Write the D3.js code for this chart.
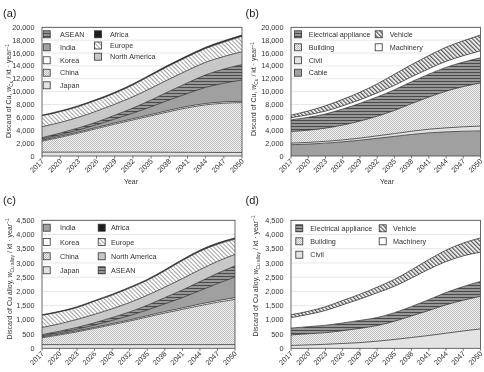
<!DOCTYPE html>
<html>
<head>
<meta charset="utf-8">
<script src="https://cdn.jsdelivr.net/npm/d3@7/dist/d3.min.js"></script>
<style>
  body { margin: 0; background: #fff; }
  svg { display: block; font-family: "Liberation Sans", Arial, sans-serif; will-change: transform; -webkit-font-smoothing: antialiased; }
</style>
</head>
<body>
<svg id="chart" width="484" height="372"></svg>
<script>
const years = [2017, 2020, 2023, 2026, 2029, 2032, 2035, 2038, 2041, 2044, 2047, 2050];

// (a) discard of Cu by region, kt/year
const cuJapan = [600, 600, 600, 600, 600, 600, 590, 580, 570, 560, 550, 550];
const cuChina = [1700, 2300, 2950, 3650, 4350, 5000, 5660, 6320, 6930, 7390, 7650, 7750];
const cuKorea = [150, 160, 170, 180, 190, 200, 200, 210, 210, 210, 210, 200];
const cuIndia = [200, 250, 320, 420, 600, 850, 1200, 1600, 2000, 2500, 2900, 3300];
const cuAsean = [200, 250, 320, 420, 600, 800, 1050, 1350, 1650, 1950, 2200, 2400];
const cuNorthAmerica = [1700, 1650, 1650, 1700, 1700, 1750, 1850, 1900, 1950, 1950, 1950, 2000];
const cuEurope = [1700, 1680, 1670, 1700, 1720, 1850, 1990, 2070, 2110, 2150, 2240, 2400];
const cuAfrica = [100, 110, 120, 130, 140, 150, 160, 170, 180, 190, 200, 200];

// (b) discard of Cu by end use, kt/year
const cuCable = [1750, 1850, 2000, 2200, 2450, 2750, 3050, 3350, 3600, 3750, 3850, 3900];
const cuCivil = [250, 260, 280, 300, 330, 380, 430, 500, 560, 620, 690, 750];
const cuBuilding = [1800, 1900, 2050, 2300, 2650, 3050, 3600, 4300, 5000, 5700, 6250, 6700];
const cuElectrical = [1800, 2000, 2200, 2500, 2750, 3000, 3200, 3400, 3550, 3700, 3800, 3900];
const cuMachinery = [350, 400, 450, 500, 560, 620, 700, 770, 850, 950, 1000, 1100];
const cuVehicle = [400, 590, 820, 1000, 1160, 1400, 1720, 1880, 2040, 2180, 2310, 2450];

// (c) discard of Cu alloy by region, kt/year
const alloyJapan = [130, 130, 130, 130, 130, 130, 130, 130, 130, 130, 130, 130];
const alloyChina = [240, 340, 450, 570, 700, 830, 970, 1110, 1240, 1370, 1490, 1590];
const alloyKorea = [30, 30, 35, 35, 40, 40, 45, 50, 50, 55, 55, 60];
const alloyIndia = [40, 50, 60, 80, 110, 150, 200, 270, 360, 470, 600, 720];
const alloyAsean = [40, 50, 60, 80, 100, 130, 170, 220, 270, 320, 360, 400];
const alloyNorthAmerica = [250, 260, 280, 300, 310, 330, 350, 370, 400, 420, 420, 400];
const alloyEurope = [430, 420, 420, 460, 480, 510, 525, 575, 635, 645, 605, 540];
const alloyAfrica = [20, 20, 25, 25, 30, 30, 30, 35, 35, 40, 40, 40];

// (d) discard of Cu alloy by end use, kt/year
const alloyCivil = [100, 120, 140, 170, 200, 250, 310, 380, 450, 530, 610, 680];
const alloyBuilding = [370, 390, 410, 450, 500, 550, 640, 760, 880, 1000, 1080, 1150];
const alloyElectrical = [240, 250, 260, 270, 280, 280, 300, 330, 380, 430, 480, 520];
const alloyMachinery = [370, 430, 520, 640, 750, 870, 930, 1000, 1070, 1090, 1080, 1030];
const alloyVehicle = [100, 110, 130, 150, 170, 200, 240, 290, 340, 400, 450, 500];

function buildTable(series) {
  return years.map((year, i) => {
    let row = { year: year };
    for (let name in series) row[name] = series[name][i];
    return row;
  });
}

const fills = {
  Japan: "#e3e3e3",
  China: "url(#checker)",
  Korea: "#ffffff",
  India: "#a0a0a0",
  ASEAN: "url(#stripes)",
  "North America": "#c8c8c8",
  Europe: "url(#diag)",
  Africa: "#1e1e1e",
  Cable: "#a0a0a0",
  Civil: "#e3e3e3",
  Building: "url(#checker)",
  "Electrical appliance": "url(#stripes)",
  Machinery: "#ffffff",
  Vehicle: "url(#diagDark)",
};

const panels = [
  {
    label: "(a)", labelX: 3, labelY: 17,
    left: 42, right: 242, top: 27.3, bottom: 156,
    yMax: 20000, yStep: 2000,
    title: ["Discard of Cu, ", "w", "Cu", " / kt · year", "−1"], titleX: 9, titleY: 91,
    yearX: 131, yearY: 184,
    table: buildTable({ Japan: cuJapan, China: cuChina, Korea: cuKorea, India: cuIndia, ASEAN: cuAsean,
      "North America": cuNorthAmerica, Europe: cuEurope, Africa: cuAfrica }),
    legend: [
      { icon: 46.7, text: 60, rows: [34.3, 47.3, 60.3, 72.7, 85.3], names: ["ASEAN", "India", "Korea", "China", "Japan"] },
      { icon: 98, text: 110, rows: [34.3, 45.5, 56.7], names: ["Africa", "Europe", "North America"] },
    ],
  },
  {
    label: "(b)", labelX: 245.5, labelY: 17,
    left: 291, right: 480.5, top: 27.3, bottom: 156,
    yMax: 20000, yStep: 2000,
    title: ["Discard of Cu, ", "w", "Cu", " / kt · year", "−1"], titleX: 254, titleY: 89,
    yearX: 387, yearY: 184,
    table: buildTable({ Cable: cuCable, Civil: cuCivil, Building: cuBuilding, "Electrical appliance": cuElectrical,
      Machinery: cuMachinery, Vehicle: cuVehicle }),
    legend: [
      { icon: 298, text: 308.7, rows: [34.3, 47.3, 60.3, 72.7], names: ["Electrical appliance", "Building", "Civil", "Cable"] },
      { icon: 378.7, text: 389.7, rows: [34.3, 47.3], names: ["Vehicle", "Machinery"] },
    ],
  },
  {
    label: "(c)", labelX: 3, labelY: 204,
    left: 42, right: 235, top: 220.3, bottom: 348.3,
    yMax: 4500, yStep: 500,
    title: ["Discard of Cu alloy, ", "w", "Cu alloy", " / kt · year", "−1"], titleX: 9.5, titleY: 279,
    table: buildTable({ Japan: alloyJapan, China: alloyChina, Korea: alloyKorea, India: alloyIndia, ASEAN: alloyAsean,
      "North America": alloyNorthAmerica, Europe: alloyEurope, Africa: alloyAfrica }),
    legend: [
      { icon: 46.7, text: 60, rows: [227.7, 242, 256.3, 270.3], names: ["India", "Korea", "China", "Japan"] },
      { icon: 101.7, text: 111, rows: [227.7, 242, 256.3, 270.3], names: ["Africa", "Europe", "North America", "ASEAN"] },
    ],
  },
  {
    label: "(d)", labelX: 245.5, labelY: 204,
    left: 291, right: 480.5, top: 220.3, bottom: 348.3,
    yMax: 4500, yStep: 500,
    title: ["Discard of Cu alloy, ", "w", "Cu alloy", " / kt · year", "−1"], titleX: 255.5, titleY: 276,
    table: buildTable({ Civil: alloyCivil, Building: alloyBuilding, "Electrical appliance": alloyElectrical,
      Machinery: alloyMachinery, Vehicle: alloyVehicle }),
    legend: [
      { icon: 299.3, text: 310.3, rows: [228.3, 241.3, 254.7], names: ["Electrical appliance", "Building", "Civil"] },
      { icon: 382.7, text: 393, rows: [228.3, 241.3], names: ["Vehicle", "Machinery"] },
    ],
  },
];

function addPatterns(defs) {
  // fine dotted mesh (China / Building)
  let checker = defs.append("pattern").attr("id", "checker")
    .attr("width", 2).attr("height", 2).attr("patternUnits", "userSpaceOnUse");
  checker.append("rect").attr("width", 2).attr("height", 2).attr("fill", "#f2f2f2");
  checker.append("rect").attr("width", 1).attr("height", 1).attr("fill", "#bdbdbd");
  checker.append("rect").attr("x", 1).attr("y", 1).attr("width", 1).attr("height", 1).attr("fill", "#bdbdbd");

  let stripes = defs.append("pattern").attr("id", "stripes")
    .attr("width", 4).attr("height", 3).attr("patternUnits", "userSpaceOnUse");
  stripes.append("rect").attr("width", 4).attr("height", 3).attr("fill", "#969696");
  stripes.append("rect").attr("width", 4).attr("height", 1).attr("fill", "#4a4a4a");

  let diag = defs.append("pattern").attr("id", "diag")
    .attr("width", 3).attr("height", 3).attr("patternUnits", "userSpaceOnUse")
    .attr("patternTransform", "rotate(-45)");
  diag.append("rect").attr("width", 3).attr("height", 3).attr("fill", "#ffffff");
  diag.append("rect").attr("width", 1).attr("height", 3).attr("fill", "#a0a0a0");

  let diagDark = defs.append("pattern").attr("id", "diagDark")
    .attr("width", 3).attr("height", 3).attr("patternUnits", "userSpaceOnUse")
    .attr("patternTransform", "rotate(-45)");
  diagDark.append("rect").attr("width", 3).attr("height", 3).attr("fill", "#ffffff");
  diagDark.append("rect").attr("width", 1.3).attr("height", 3).attr("fill", "#555555");
}

function drawPanel(svg, p, idx) {
  let keys = Object.keys(p.table[0]).filter((k) => k !== "year");
  let stacked = d3.stack().keys(keys)(p.table);

  let xScale = d3.scaleLinear().domain([years[0], years[years.length - 1]]).range([p.left, p.right]);
  let yScale = d3.scaleLinear().domain([0, p.yMax]).range([p.bottom, p.top]);
  let yTicks = d3.range(0, p.yMax + 1, p.yStep);

  let g = svg.append("g");

  g.append("clipPath").attr("id", "clip" + idx)
    .append("rect").attr("x", p.left).attr("y", p.top)
    .attr("width", p.right - p.left).attr("height", p.bottom - p.top);

  // gridlines
  g.append("g").selectAll("line").data(yTicks.slice(1)).join("line")
    .attr("x1", p.left).attr("x2", p.right)
    .attr("y1", (d) => yScale(d)).attr("y2", (d) => yScale(d))
    .attr("stroke", "#dcdcdc").attr("stroke-width", 0.7);

  let area = d3.area()
    .x((d) => xScale(d.data.year))
    .y0((d) => yScale(d[0]))
    .y1((d) => yScale(d[1]))
    .curve(d3.curveMonotoneX);

  let topLine = d3.line()
    .x((d) => xScale(d.data.year))
    .y((d) => yScale(d[1]))
    .curve(d3.curveMonotoneX);

  let plot = g.append("g").attr("clip-path", `url(#clip${idx})`);
  plot.selectAll("path.area").data(stacked).join("path")
    .attr("class", "area")
    .attr("d", area)
    .attr("fill", (d) => fills[d.key]);
  plot.selectAll("path.edge").data(stacked).join("path")
    .attr("class", "edge")
    .attr("d", topLine)
    .attr("fill", "none")
    .attr("stroke", "#3a3a3a")
    .attr("stroke-width", 0.8);

  // frame
  g.append("rect")
    .attr("x", p.left).attr("y", p.top)
    .attr("width", p.right - p.left).attr("height", p.bottom - p.top)
    .attr("fill", "none").attr("stroke", "#444").attr("stroke-width", 0.8);

  // y axis labels
  g.append("g").selectAll("text").data(yTicks).join("text")
    .attr("x", p.left - 7.5)
    .attr("y", (d) => yScale(d))
    .attr("dy", "0.35em")
    .attr("text-anchor", "end")
    .attr("font-size", 7.3)
    .attr("fill", "#333")
    .text((d) => d3.format(",")(d));

  // x axis ticks and rotated labels
  let xAxis = g.append("g");
  xAxis.selectAll("line").data(years).join("line")
    .attr("x1", (d) => xScale(d)).attr("x2", (d) => xScale(d))
    .attr("y1", p.bottom).attr("y2", p.bottom + 2.5)
    .attr("stroke", "#444").attr("stroke-width", 0.7);
  xAxis.selectAll("text").data(years).join("text")
    .attr("transform", (d) => `translate(${xScale(d) + 0.5}, ${p.bottom + 4}) rotate(-45)`)
    .attr("text-anchor", "end")
    .attr("dy", "0.35em")
    .attr("font-size", 7.2)
    .attr("fill", "#333")
    .text((d) => d);

  if (p.yearX) {
    g.append("text")
      .attr("x", p.yearX).attr("y", p.yearY)
      .attr("text-anchor", "middle")
      .attr("font-size", 7)
      .attr("fill", "#333")
      .text("Year");
  }

  // y title with subscript and superscript
  let title = g.append("text")
    .attr("transform", `translate(${p.titleX}, ${p.titleY}) rotate(-90)`)
    .attr("text-anchor", "middle")
    .attr("dy", "0.35em")
    .attr("font-size", 7)
    .attr("fill", "#333");
  title.append("tspan").text(p.title[0]);
  title.append("tspan").attr("font-style", "italic").text(p.title[1]);
  title.append("tspan").attr("font-size", 4.8).attr("dy", 1.8).text(p.title[2]);
  title.append("tspan").attr("dy", -1.8).text(p.title[3]);
  title.append("tspan").attr("font-size", 4.8).attr("dy", -2.8).text(p.title[4]);

  // panel label
  g.append("text")
    .attr("x", p.labelX).attr("y", p.labelY)
    .attr("font-size", 11)
    .attr("fill", "#222")
    .text(p.label);

  // legend
  for (let col of p.legend) {
    let items = g.append("g").selectAll("g").data(col.names).join("g");
    items.append("rect")
      .attr("x", col.icon - 3.5)
      .attr("y", (d, i) => col.rows[i] - 3.5)
      .attr("width", 7).attr("height", 7)
      .attr("fill", (d) => fills[d])
      .attr("stroke", "#333").attr("stroke-width", 0.8);
    items.append("text")
      .attr("x", col.text)
      .attr("y", (d, i) => col.rows[i])
      .attr("dy", "0.35em")
      .attr("font-size", 7.2)
      .attr("fill", "#333")
      .text((d) => d);
  }
}

let svg = d3.select("#chart");
addPatterns(svg.append("defs"));
panels.forEach((p, i) => drawPanel(svg, p, i));
</script>
</body>
</html>
